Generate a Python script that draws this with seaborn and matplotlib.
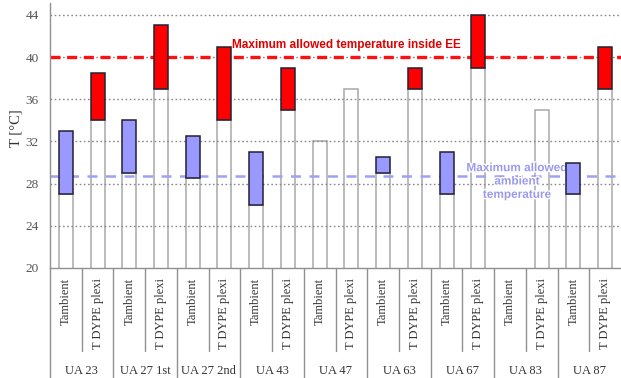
import numpy as np
import pandas as pd
import matplotlib
matplotlib.use("Agg")
import matplotlib.pyplot as plt
import matplotlib.patheffects as pe
import seaborn as sns

# data
groups = ["UA 23", "UA 27 1st", "UA 27 2nd", "UA 43", "UA 47",
          "UA 63", "UA 67", "UA 83", "UA 87"]
series = ["Tambient", "T DYPE plexi"]
tamb_low = [27, 29, 28.5, 26, 32, 29, 27, np.nan, 27]
tamb_high = [33, 34, 32.5, 31, np.nan, 30.5, 31, np.nan, 30]
tdype_low = [34, 37, 34, 35, 37, 37, 39, 35, 37]
tdype_high = [38.5, 43, 41, 39, np.nan, 39, 44, np.nan, 41]
max_inside = 40
max_ambient = 28.75
yticks = [20, 24, 28, 32, 36, 40, 44]

rows = []
for i, g in enumerate(groups):
    rows.append((g, series[0], tamb_low[i], tamb_high[i]))
    rows.append((g, series[1], tdype_low[i], tdype_high[i]))
df = pd.DataFrame(rows, columns=["group", "series", "low", "high"])
df["cat"] = df["group"] + " / " + df["series"]

sns.set_style("white")
plt.rcParams["font.family"] = ["Liberation Serif", "DejaVu Serif"]

fig = plt.figure(figsize=(6.21, 3.78), dpi=100)
ax = fig.add_axes([50 / 621, 110 / 378, 571 / 621, 264.7 / 378])

bw = 0.44
# white base bars up to the lower value
sns.barplot(data=df, x="cat", y="low", color="white", edgecolor="#a8a8a8",
            linewidth=1.1, width=bw, errorbar=None, ax=ax, zorder=1)

pos = np.arange(len(df))
colors = {"Tambient": "#9999ff", "T DYPE plexi": "#ff0000"}
for s in series:
    m = (df["series"] == s).values
    ax.bar(pos[m], (df["high"] - df["low"]).values[m], bottom=df["low"].values[m],
           width=bw, color=colors[s], edgecolor="#222233", linewidth=1.1, zorder=3)

ax.set_ylim(20, 45.1)
ax.set_xlim(-0.5, len(df) - 0.5)
ax.set_yticks(yticks)
for y in yticks[1:]:
    ax.axhline(y, color="#8a8a8a", lw=1, ls=(0, (1.2, 1.8)), zorder=1.5)

ax.axhline(max_inside, color="#ff1010", lw=2.4, ls=(0, (3, 2)), zorder=2)
ax.axhline(max_ambient, color="#a0a0f4", lw=1.8, ls=(0, (4, 3.4)), zorder=2)

ax.text(5.24, 41.15, "Maximum allowed temperature inside EE", color="#e00000",
        fontsize=8.5, fontweight="bold", family="Liberation Sans",
        ha="left", va="center", zorder=2.5)
ax.text(14.22, 28.2, "Maximum allowed\nambient\ntemperature", color="#9a9aee",
        fontsize=8.5, fontweight="bold", family="Liberation Sans",
        ha="center", va="center", linespacing=1.15, zorder=2.5,
        path_effects=[pe.withStroke(linewidth=2, foreground="white")])

for sp in ["top", "right"]:
    ax.spines[sp].set_visible(False)
for sp in ["left", "bottom"]:
    ax.spines[sp].set_color("#909090")
    ax.spines[sp].set_linewidth(1)

ax.set_xticks([])
ax.set_xlabel("")
ax.tick_params(axis="y", length=3, width=1, color="#909090", pad=5,
               labelsize=9.5, labelcolor="#555555")
ax.set_ylabel("T [°C]", fontsize=10.5, color="#333333")
ax.yaxis.set_label_coords(-0.048, 0.53)

# two-level category labels under the axis
tr = ax.get_xaxis_transform()
for i, row in df.iterrows():
    ax.text(i, -0.038, row["series"], rotation=90, ha="center", va="top",
            fontsize=9, color="#333333", transform=tr)
for k, g in enumerate(groups):
    ax.text(2 * k + 0.5, -0.39, g, ha="center", va="center",
            fontsize=9, color="#333333", transform=tr)
    ax.plot([2 * k - 0.5, 2 * k - 0.5], [0, -0.42], color="#909090", lw=1,
            transform=tr, clip_on=False)
    ax.plot([2 * k + 0.5, 2 * k + 0.5], [0, -0.3136], color="#909090", lw=1,
            transform=tr, clip_on=False)

fig.savefig("out.png", dpi=100)
